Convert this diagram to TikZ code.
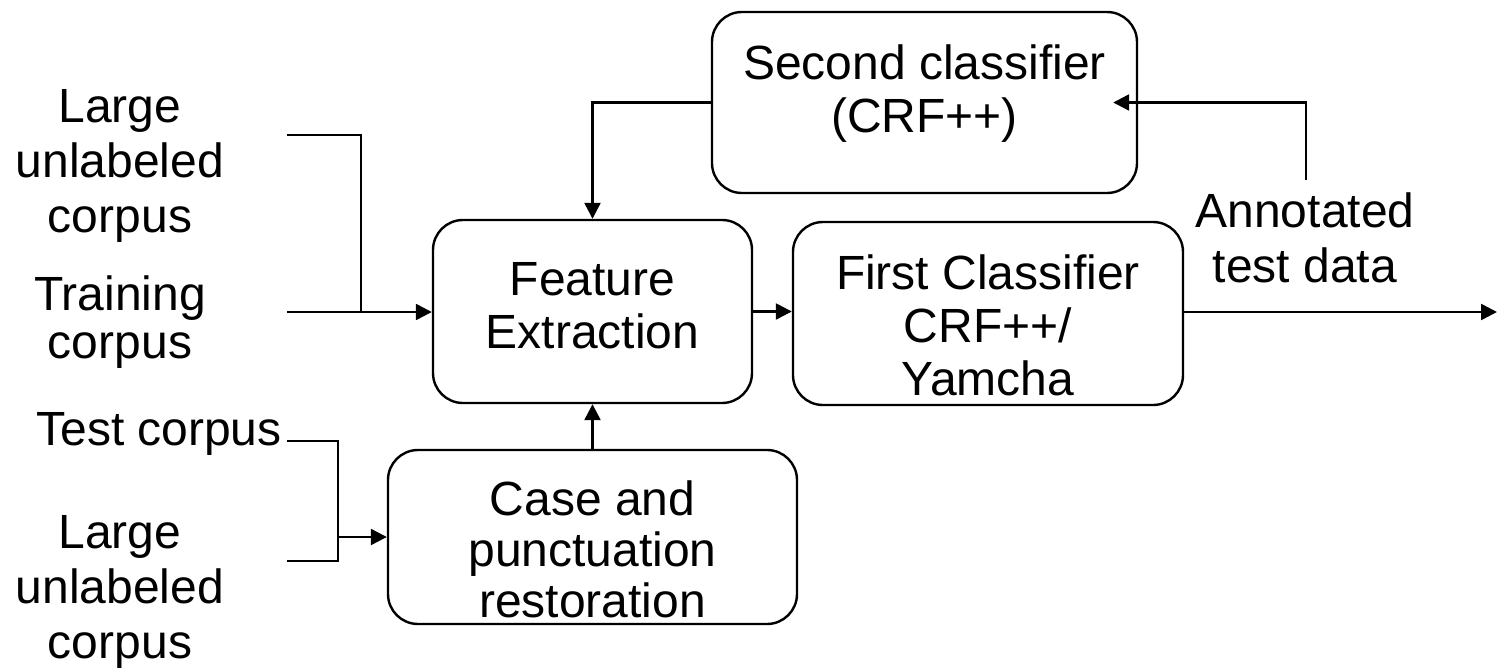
\documentclass[tikz,border=0pt]{standalone}
\usepackage{fontspec}
\setmainfont{Liberation Sans}
\usetikzlibrary{arrows.meta}
\begin{document}
\begin{tikzpicture}[x=1pt,y=-1pt,line width=2.4pt,
  >={Triangle[length=16pt,width=16pt]},
  box/.style={draw,rounded corners=30pt,inner sep=0pt,line width=2.4pt},
  lbl/.style={anchor=base,inner sep=0pt,font=\fontsize{48}{54}\selectfont}]
\useasboundingbox (0,0) rectangle (1497,669);

% process boxes
\node[box,minimum width=425pt,minimum height=181pt] (sc) at (924.5,102.5) {};
\node[box,minimum width=319pt,minimum height=183pt] (fe) at (592.5,311.5) {};
\node[box,minimum width=390pt,minimum height=183pt] (fc) at (988,313.5) {};
\node[box,minimum width=409pt,minimum height=174pt] (cp) at (592.5,537) {};

% box texts
\foreach \t [count=\i] in {Second classifier,(CRF++)}
  \node[lbl] (sct\i) at (924.5,{80+(\i-1)*52}) {\t};
\foreach \t [count=\i] in {Feature,Extraction}
  \node[lbl] (fet\i) at (592.5,{295+(\i-1)*53}) {\t};
\foreach \t [count=\i] in {First Classifier,CRF++/,Yamcha}
  \node[lbl] (fct\i) at (988,{289+(\i-1)*53}) {\t};
\foreach \t [count=\i] in {Case and,punctuation,restoration}
  \node[lbl] (cpt\i) at (592.5,{515+(\i-1)*51}) {\t};

% input and output labels
\foreach \t [count=\i] in {Large,unlabeled,corpus}
  \node[lbl] (ula\i) at (120,{122+(\i-1)*55}) {\t};
\foreach \t [count=\i] in {Training,corpus}
  \node[lbl] (tr\i) at (120,{310+(\i-1)*48}) {\t};
\node[lbl] (te) at (159,445) {Test corpus};
\foreach \t [count=\i] in {Large,unlabeled,corpus}
  \node[lbl] (ulb\i) at (120,{548+(\i-1)*55}) {\t};
\foreach \t [count=\i] in {Annotated,test data}
  \node[lbl] (an\i) at (1305,{227+(\i-1)*55}) {\t};

% connector ends
\coordinate (in1) at (287,135);
\coordinate (in2) at (287,312);
\coordinate (j1) at (361,312);
\coordinate (in3) at (287,441);
\coordinate (in4) at (287,561);
\coordinate (j2) at (338,561);
\coordinate (j3) at (338,537);
\coordinate (fb) at (1306,180);
\coordinate (out) at (1497,312);

% connectors
\draw (in1) -| (j1);
\draw[->] (in2) -- (fe.west |- in2);
\draw (in3) -| (j2) -- (in4);
\draw[->] (j3) -- (cp.west |- j3);
\draw[->] (cp.north) -- (fe.south);
\draw[->] (fe.east) -- (fc.west |- fe.east);
\draw[->] (fc.east |- out) -- (out);
\draw[->] (sc.west) -| (fe.north);
\draw[->] (fb) |- ([xshift=-25pt]sc.east);
\end{tikzpicture}
\end{document}
